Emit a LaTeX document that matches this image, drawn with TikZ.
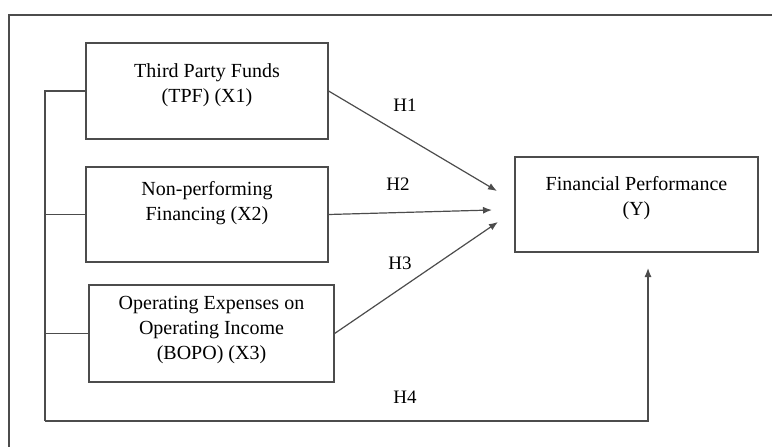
\documentclass[tikz,border=0pt]{standalone}
\usepackage{fontspec}
\setmainfont{Liberation Serif}
\usepackage{tikz}
\usetikzlibrary{arrows.meta}

\tikzstyle{box}=[draw=black!70, line width=1.2pt, rectangle, inner sep=0pt]
\tikzstyle{txt}=[align=center, inner sep=0pt, font=\fontsize{20}{25}\selectfont]
\tikzstyle{hyp}=[inner sep=0pt, font=\fontsize{19}{22}\selectfont]
\tikzstyle{link}=[draw=black!70, line width=1.2pt]
\tikzstyle{tip}=[-{Latex[length=9pt,width=7pt]}]

\begin{document}
\begin{tikzpicture}[x=1pt,y=-1pt]
\useasboundingbox (0,0) rectangle (772,447);
\draw[link] (9,447) -- (9,15) -- (772,15);
% variable boxes
\node[box, minimum width=242pt, minimum height=96pt] (x1) at (207,91) {};
\node[box, minimum width=242pt, minimum height=95pt] (x2) at (207,214.5) {};
\node[box, minimum width=245pt, minimum height=97pt] (x3) at (211.5,333.5) {};
\node[box, minimum width=243pt, minimum height=95pt] (y) at (636.5,204.5) {};
\node[txt] (x1t) at (207,85) {Third Party Funds\\(TPF) (X1)};
\node[txt] (x2t) at (207,203) {Non-performing\\Financing (X2)};
\node[txt] (x3t) at (211.5,330) {Operating Expenses on\\Operating Income\\(BOPO) (X3)};
\node[txt] (yt) at (636.5,198) {Financial Performance\\(Y)};
% arrow ends
\coordinate (h1end) at (497,191);
\coordinate (h2end) at (492,210);
\coordinate (h3end) at (498,222);
\coordinate (h4end) at (648,268);
\coordinate (bus) at (45,421);
\draw[link, tip] (x1.east) -- (h1end);
\draw[link, tip] (x2.east) -- (h2end);
\draw[link, tip] (x3.east) -- (h3end);
\draw[link] (x1.west) -- (x1.west -| bus) -- (bus);
\draw[link] (x2.west) -- (x2.west -| bus);
\draw[link] (x3.west) -- (x3.west -| bus);
\draw[link, tip] (bus) -| (h4end);
% hypothesis labels
\node[hyp] (h1) at (405,105) {H1};
\node[hyp] (h2) at (398,184) {H2};
\node[hyp] (h3) at (400,263) {H3};
\node[hyp] (h4) at (405,397) {H4};
\end{tikzpicture}
\end{document}
